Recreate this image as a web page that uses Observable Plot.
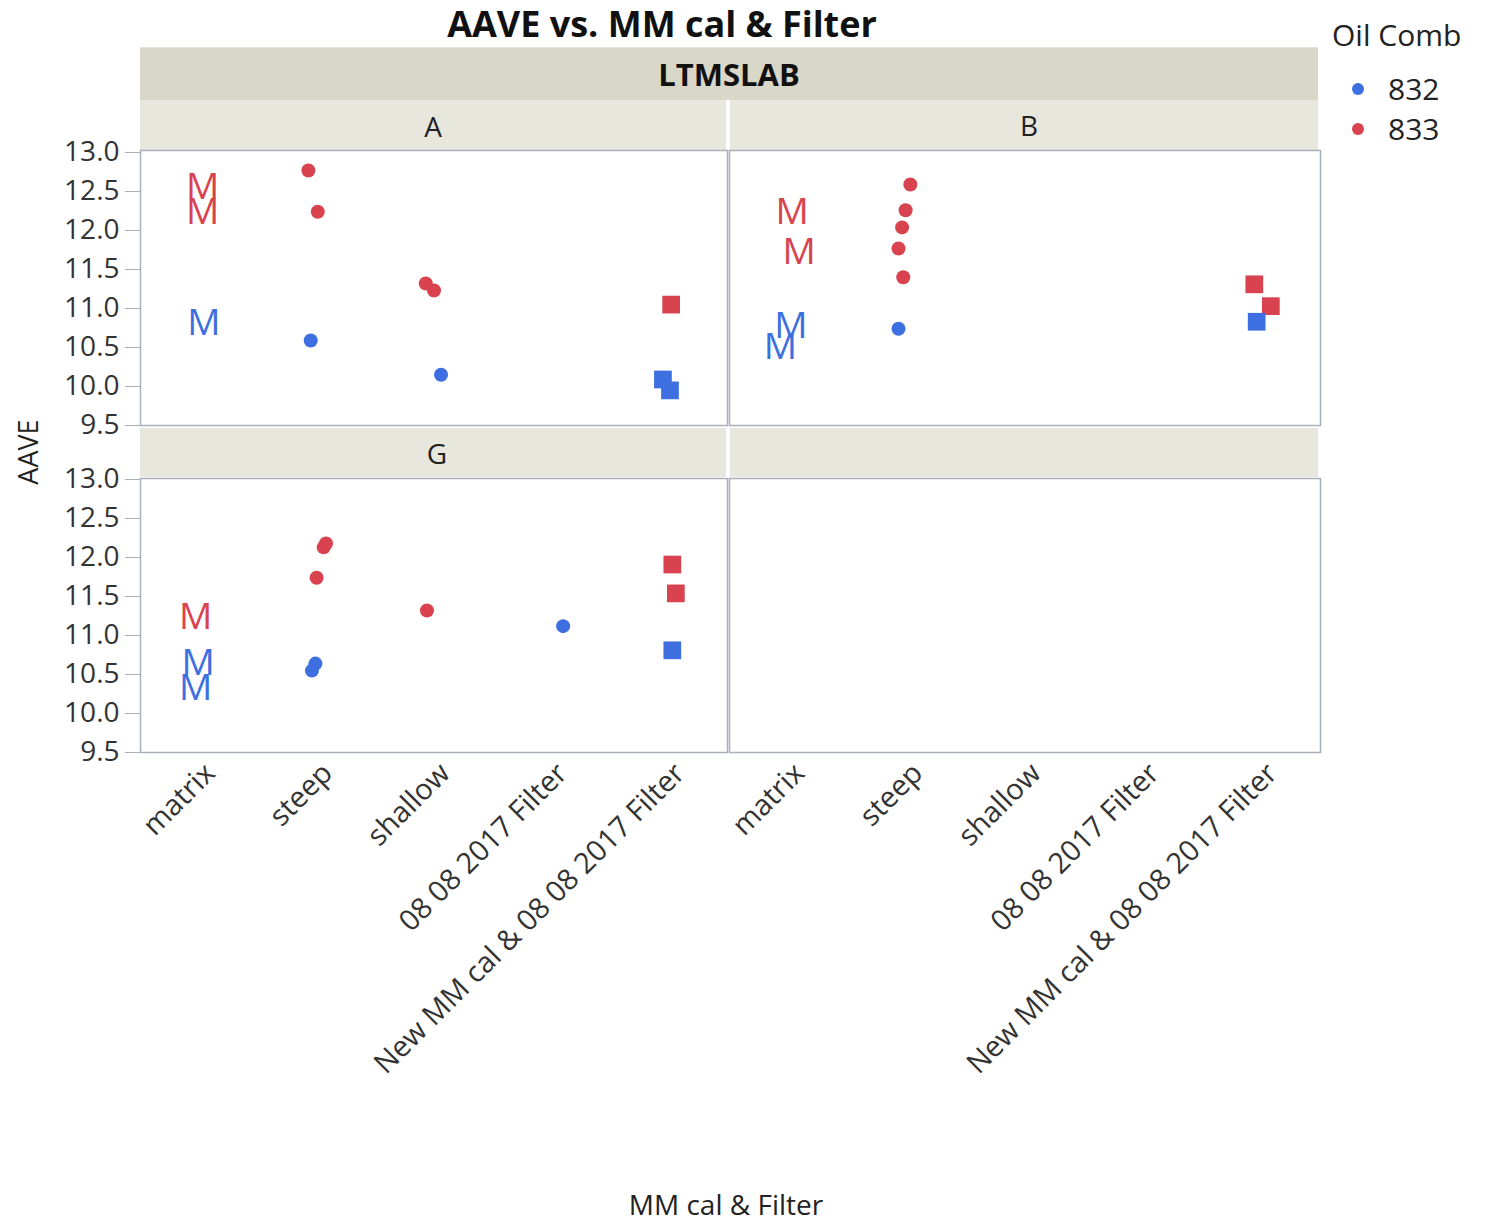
<!DOCTYPE html>
<html><head><meta charset="utf-8">
<script src="https://cdn.jsdelivr.net/npm/d3@7"></script>
<script src="https://cdn.jsdelivr.net/npm/@observablehq/plot@0.6"></script>
<style>
body{margin:0;background:#fff;}
#root{position:relative;width:1487px;height:1222px;font-family:"Open Sans",sans-serif;color:#222;overflow:hidden;background:#fff}
.abs{position:absolute;white-space:nowrap;line-height:1}
.hdr{position:absolute;display:flex;align-items:center;justify-content:center;box-sizing:border-box;line-height:1}
.pan{position:absolute}
.pan svg{overflow:visible}
</style></head><body><div id="root"></div>
<script>
// ---- data ----
const categories = ["matrix", "steep", "shallow", "08 08 2017 Filter", "New MM cal & 08 08 2017 Filter"];
const oilLevels = ["832", "833"];
const oilColors = ["#3D6FE0", "#D8434F"];
const yTicks = [9.5, 10.0, 10.5, 11.0, 11.5, 12.0, 12.5, 13.0];
const panelLabels = ["A", "B", "G"];

const ptPanel = ["A","A","A","A","A","A","A","A","A","A","A","A",
                 "B","B","B","B","B","B","B","B","B","B","B","B","B",
                 "G","G","G","G","G","G","G","G","G","G","G","G","G"];
const ptCategory = [0,0,0,1,1,1,2,2,2,4,4,4,
                    0,0,0,0,1,1,1,1,1,1,4,4,4,
                    0,0,0,1,1,1,1,1,2,3,4,4,4];
const ptOil = ["833","833","832","833","833","832","833","833","832","833","832","832",
               "833","833","832","832","833","833","833","833","833","832","833","833","832",
               "833","832","832","833","833","833","832","832","833","832","833","833","832"];
const ptAAVE = [12.55,12.24,10.81,12.77,12.24,10.59,11.32,11.23,10.15,11.05,10.09,9.95,
                12.24,11.72,10.77,10.51,12.59,12.26,12.04,11.77,11.40,10.74,11.31,11.03,10.83,
                11.24,10.64,10.32,12.18,12.13,11.74,10.64,10.55,11.32,11.12,11.91,11.54,10.81];
const ptJitter = [0.03,0.03,0.04,-0.07,0.01,-0.05,-0.07,0.00,0.06,0.02,-0.05,0.01,
                  0.03,0.09,0.02,-0.07,0.03,-0.01,-0.04,-0.07,-0.03,-0.07,-0.06,0.08,-0.04,
                  -0.03,-0.01,-0.03,0.08,0.06,0.00,-0.01,-0.04,-0.06,0.10,0.03,0.06,0.03];

const points = ptPanel.map((p, i) => ({panel: p, cat: ptCategory[i], oil: ptOil[i], aave: ptAAVE[i], jit: ptJitter[i]}));

// ---- layout ----
const root = document.getElementById("root");
const frameColor = "#A9B0BA";
const FONT = "Open Sans";

function addDiv(cls, text, css) {
  const d = document.createElement("div");
  d.className = cls;
  d.textContent = text;
  Object.assign(d.style, css);
  root.appendChild(d);
  return d;
}

// title
addDiv("abs", "AAVE vs. MM cal & Filter", {left: "662px", top: "6px", transform: "translateX(-50%)", fontSize: "36px", fontWeight: "700", color: "#111"});
// LTMSLAB header
addDiv("hdr", "LTMSLAB", {left: "140px", top: "47px", width: "1178px", height: "53px", background: "#D9D7C8", fontSize: "31px", fontWeight: "700", color: "#111", borderTop: "1px solid #E6E4D8"});
// facet headers
const hdrBg = "#E7E7DE";
addDiv("hdr", panelLabels[0], {left: "140px", top: "100px", width: "586px", height: "50px", background: hdrBg, fontSize: "28px", color: "#222", paddingTop: "2px"});
addDiv("hdr", panelLabels[1], {left: "730px", top: "100px", width: "588px", height: "50px", background: hdrBg, fontSize: "28px", color: "#222", paddingLeft: "10px"});
addDiv("hdr", panelLabels[2], {left: "140px", top: "428px", width: "586px", height: "49px", background: hdrBg, fontSize: "28px", color: "#222", paddingLeft: "8px"});
addDiv("hdr", "", {left: "730px", top: "428px", width: "588px", height: "49px", background: hdrBg});

function panel({label, left, top, width, height, ml, mt, mb, showY, showX, insetTop}) {
  const data = label ? points.filter(d => d.panel === label) : [];
  const X = d => d.cat + d.jit;
  const marks = [Plot.frame({stroke: frameColor, strokeWidth: 1.5})];
  if (showY) marks.push(Plot.axisY({ticks: yTicks, tickFormat: d3.format(".1f"), tickSize: 15, tickPadding: 6, fontSize: 28, stroke: frameColor, fill: "#333", label: null}));
  if (showX) marks.push(Plot.axisX({ticks: [0, 1, 2, 3, 4], tickFormat: i => categories[i], tickRotate: -45, tickSize: 0, tickPadding: 16, fontSize: 29, fill: "#333", dx: 11, label: null}));
  marks.push(Plot.dot(data.filter(d => d.cat >= 1 && d.cat <= 3), {x: X, y: "aave", r: 7, fill: "oil"}));
  marks.push(Plot.dot(data.filter(d => d.cat === 4), {x: X, y: "aave", symbol: "square", r: 10, fill: "oil"}));
  marks.push(Plot.text(data.filter(d => d.cat === 0), {x: X, y: "aave", text: d => "M", fill: "oil", fontSize: 37}));
  const svg = Plot.plot({
    width, height,
    marginLeft: ml, marginRight: 0, marginTop: mt, marginBottom: mb,
    x: Object.assign({domain: [-0.5, 4.5], label: null}, showX ? {} : {axis: null}),
    y: Object.assign({domain: [9.5, 13], insetTop, label: null}, showY ? {} : {axis: null}),
    color: {domain: oilLevels, range: oilColors},
    style: {fontFamily: FONT, background: "transparent", overflow: "visible"},
    marks
  });
  const wrap = document.createElement("div");
  wrap.className = "pan";
  wrap.style.left = left + "px";
  wrap.style.top = top + "px";
  wrap.appendChild(svg);
  root.appendChild(wrap);
}

panel({label: "A", left: 0, top: 140, width: 727, height: 285, ml: 140, mt: 10, mb: 0, showY: true, showX: false, insetTop: 2});
panel({label: "B", left: 729, top: 140, width: 591, height: 285, ml: 0, mt: 10, mb: 0, showY: false, showX: false, insetTop: 2});
panel({label: "G", left: 0, top: 468, width: 727, height: 624, ml: 140, mt: 10, mb: 340, showY: true, showX: true, insetTop: 1});
panel({label: null, left: 729, top: 468, width: 591, height: 624, ml: 0, mt: 10, mb: 340, showY: false, showX: true, insetTop: 1});

// axis titles
addDiv("abs", "AAVE", {left: "27px", top: "452px", transform: "translate(-50%,-50%) rotate(-90deg)", fontSize: "27px", color: "#222"});
addDiv("abs", "MM cal & Filter", {left: "726px", top: "1190px", transform: "translateX(-50%)", fontSize: "28px", color: "#222"});

// legend
addDiv("abs", "Oil Comb", {left: "1332px", top: "20px", fontSize: "30px", color: "#222"});
oilLevels.forEach((lv, i) => {
  const cy = 89 + i * 40;
  addDiv("abs", "", {left: (1358 - 6) + "px", top: (cy - 6) + "px", width: "12px", height: "12px", borderRadius: "50%", background: oilColors[i]});
  addDiv("abs", lv, {left: "1388px", top: (cy - 15) + "px", fontSize: "30px", color: "#222"});
});
</script></body></html>
